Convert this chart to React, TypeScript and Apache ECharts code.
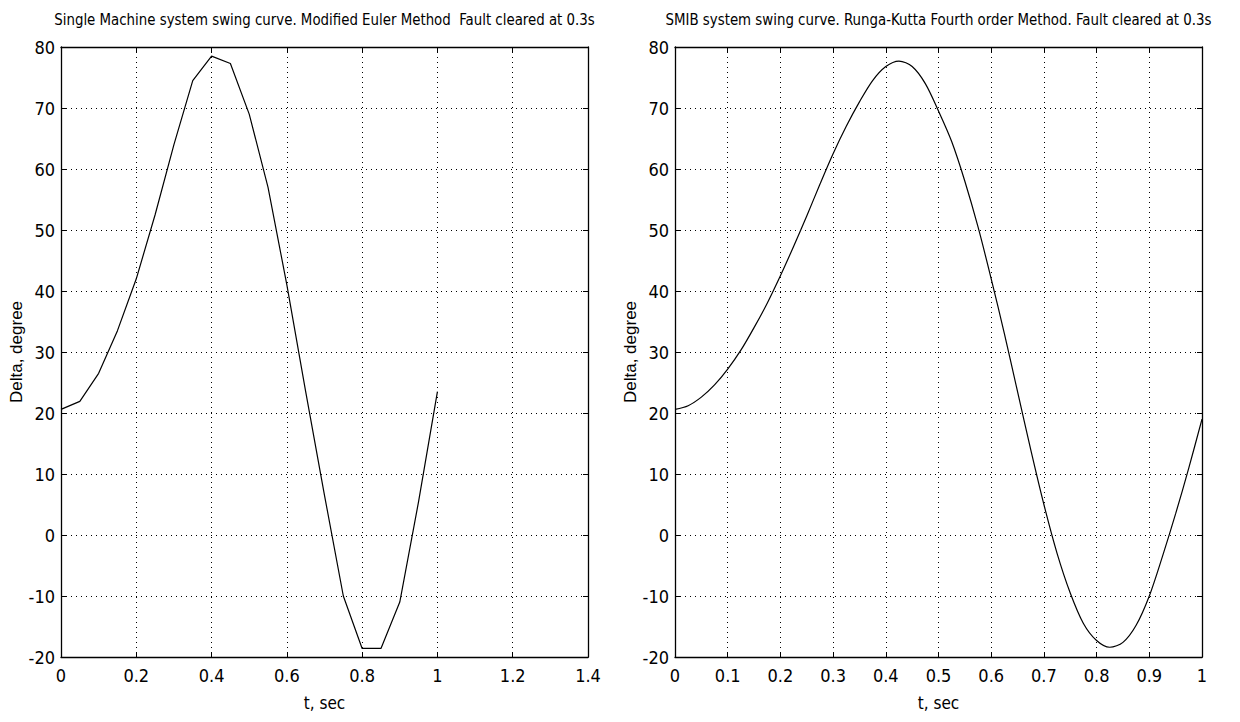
import React, { useEffect, useRef } from "react";
import * as echarts from "echarts";

// Left: Modified Euler (t, delta)
const eulerT = [0, 0.05, 0.1, 0.15, 0.2, 0.25, 0.3, 0.35, 0.4, 0.45, 0.5, 0.55, 0.6, 0.65, 0.7, 0.75, 0.8, 0.85, 0.9, 0.95, 1.0];
const eulerDelta = [20.6, 21.9, 26.5, 33.5, 42, 52.5, 64, 74.5, 78.5, 77.3, 69, 57, 41, 23.5, 6.5, -10, -18.6, -18.6, -11, 5.5, 23.5];

// Right: Runge-Kutta 4th order (t, delta)
const rkT = [0, 0.025, 0.05, 0.075, 0.1, 0.125, 0.15, 0.175, 0.2, 0.225, 0.25, 0.275, 0.3, 0.325, 0.35, 0.375, 0.4, 0.425, 0.45, 0.475, 0.5, 0.525, 0.55, 0.575, 0.6, 0.625, 0.65, 0.675, 0.7, 0.725, 0.75, 0.775, 0.8, 0.825, 0.85, 0.875, 0.9, 0.925, 0.95, 0.975, 1.0];
const rkDelta = [20.6, 21.2, 22.6, 24.6, 27.2, 30.3, 34, 38, 42.5, 47.3, 52.3, 57.5, 62.5, 67, 71, 74.5, 76.8, 77.7, 76.8, 74, 69.5, 64.5, 58, 50.5, 42, 33, 23.5, 14, 5, -3, -9.5, -14.5, -17.3, -18.4, -17.6, -14.8, -10, -3.5, 3.5, 11, 19];

const leftTitle = "Single Machine system swing curve. Modified Euler Method  Fault cleared at 0.3s";
const rightTitle = "SMIB system swing curve. Runga-Kutta Fourth order Method. Fault cleared at 0.3s";
const xName = "t, sec";
const yName = "Delta, degree";

const NARROW = "'Liberation Sans Narrow', 'DejaVu Sans Condensed', 'Arial Narrow', sans-serif";
const REG = "'Liberation Sans', Arial, sans-serif";

export default function App() {
  const ref = useRef<HTMLDivElement>(null);
  useEffect(() => {
    document.body.style.margin = "0";
    const chart = echarts.init(ref.current!, null, { renderer: "svg" });
    const G = [
      { left: 61, top: 47, width: 527, height: 610 },
      { left: 675, top: 47, width: 527, height: 610 },
    ];
    const fmt = (v: number) => String(+v.toFixed(1));
    const axisLine = { show: true, onZero: false, lineStyle: { color: "#000", width: 1.3 } };
    const tick = { show: true, inside: true, length: 5, lineStyle: { color: "#000" } };
    const grid = { show: true, lineStyle: { color: "#000", type: [1, 4], width: 1 } };
    const mkX = (gi: number, max: number, interval: number) => [
      {
        type: "value", gridIndex: gi, min: 0, max, interval, position: "bottom",
        axisLine, axisTick: tick, splitLine: grid,
        axisLabel: { color: "#000", fontFamily: NARROW, fontSize: 18, margin: 9, formatter: fmt },
        name: xName, nameLocation: "middle", nameGap: 37,
        nameTextStyle: { color: "#000", fontFamily: NARROW, fontSize: 17 },
      },
      {
        type: "value", gridIndex: gi, min: 0, max, interval, position: "top",
        axisLine, axisTick: tick, splitLine: { show: false }, axisLabel: { show: false },
      },
    ];
    const mkY = (gi: number) => [
      {
        type: "value", gridIndex: gi, min: -20, max: 80, interval: 10, position: "left",
        axisLine, axisTick: tick, splitLine: grid,
        axisLabel: { color: "#000", fontFamily: NARROW, fontSize: 18, margin: 6 },
        name: yName, nameLocation: "middle", nameGap: 35, nameRotate: 90,
        nameTextStyle: { color: "#000", fontFamily: REG, fontSize: 17 },
      },
      {
        type: "value", gridIndex: gi, min: -20, max: 80, interval: 10, position: "right",
        axisLine, axisTick: tick, splitLine: { show: false }, axisLabel: { show: false },
      },
    ];
    chart.setOption({
      animation: false,
      backgroundColor: "#fff",
      grid: G,
      xAxis: [...mkX(0, 1.4, 0.2), ...mkX(1, 1, 0.1)],
      yAxis: [...mkY(0), ...mkY(1)],
      graphic: [
        {
          type: "text", x: 61 + 527 / 2, y: 19, scaleX: 0.9,
          style: { text: leftTitle, fill: "#000", font: `16.5px ${NARROW}`, textAlign: "center", textVerticalAlign: "middle" },
        },
        {
          type: "text", x: 675 + 527 / 2, y: 19, scaleX: 0.9,
          style: { text: rightTitle, fill: "#000", font: `16.5px ${NARROW}`, textAlign: "center", textVerticalAlign: "middle" },
        },
      ],
      series: [
        {
          type: "line", xAxisIndex: 0, yAxisIndex: 0, showSymbol: false, symbol: "none",
          lineStyle: { color: "#000", width: 1.2 },
          data: eulerT.map((t, i) => [t, eulerDelta[i]]),
        },
        {
          type: "line", xAxisIndex: 2, yAxisIndex: 2, showSymbol: false, symbol: "none", smooth: 0.3,
          lineStyle: { color: "#000", width: 1.2 },
          data: rkT.map((t, i) => [t, rkDelta[i]]),
        },
      ],
    });
    return () => chart.dispose();
  }, []);
  return <div ref={ref} style={{ width: 1240, height: 722 }} />;
}
